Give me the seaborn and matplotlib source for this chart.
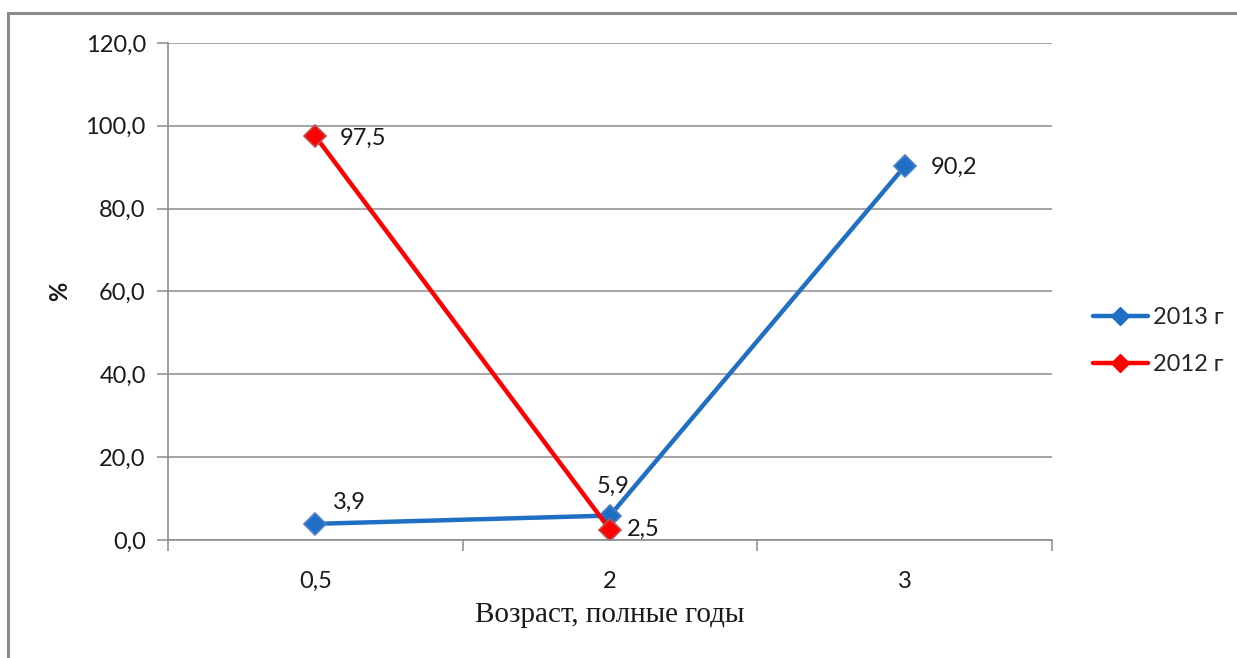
import numpy as np
import pandas as pd
import matplotlib
matplotlib.use("Agg")
import matplotlib.pyplot as plt
from matplotlib.patches import Rectangle
from matplotlib.lines import Line2D
from matplotlib.ticker import FixedLocator, FuncFormatter
import seaborn as sns

# Data
categories = ["0,5", "2", "3"]
series_names = ["2013 г", "2012 г"]
values_2013 = [3.9, 5.9, 90.2]
values_2012 = [97.5, 2.5, np.nan]
y_ticks = [0, 20, 40, 60, 80, 100, 120]

colors = {"2013 г": "#1F6FC4", "2012 г": "#FF0000"}

sns.set_theme(style="white")
plt.rcParams["font.family"] = ["Lato", "DejaVu Sans"]

pos = np.arange(len(categories))
df = pd.DataFrame({
    "pos": np.concatenate([pos, pos]),
    "value": values_2013 + values_2012,
    "series": [series_names[0]] * 3 + [series_names[1]] * 3,
})

W, H = 1237, 658
fig = plt.figure(figsize=(W / 100, H / 100), dpi=100)
ax = fig.add_axes([168 / W, 1 - 540 / H, (1052 - 168) / W, (540 - 43) / H])

sns.lineplot(
    data=df.dropna(), x="pos", y="value", hue="series", hue_order=series_names,
    palette=colors, style="series", markers={"2013 г": "D", "2012 г": "D"},
    dashes=False, markersize=11, linewidth=3.2, ax=ax, legend=False,
    markeredgewidth=1.2,
)
# marker outlines
for line, ec in zip(ax.lines, ["#4A7EC8", "#C0504D"]):
    line.set_markeredgecolor(ec)

ax.set_xlim(-0.5, 2.5)
ax.set_ylim(0, 120)

# axes styling
grid_c = "#8C8C8C"
text_c = "#1a1a1a"
for s in ["top", "right"]:
    ax.spines[s].set_visible(False)
for s in ["left", "bottom"]:
    ax.spines[s].set_color(grid_c)
    ax.spines[s].set_linewidth(1.2)
ax.yaxis.grid(True, color=grid_c, linewidth=1.1)
ax.set_axisbelow(True)

ax.yaxis.set_major_locator(FixedLocator(y_ticks))
ax.yaxis.set_major_formatter(FuncFormatter(lambda v, p: f"{v:.1f}".replace(".", ",")))
ax.tick_params(axis="y", length=8, width=1.1, color=grid_c, pad=8,
               labelsize=17, labelcolor=text_c, left=True)

ax.set_xticks(pos)
ax.set_xticklabels(categories)
ax.set_xticks([-0.5, 0.5, 1.5, 2.5], minor=True)
ax.tick_params(axis="x", which="major", length=0, pad=22, labelsize=17,
               labelcolor=text_c)
ax.tick_params(axis="x", which="minor", length=8, width=1.1, color=grid_c,
               bottom=True)

ax.set_xlabel("Возраст, полные годы", family=["Liberation Serif"], fontsize=21,
              color=text_c)
ax.xaxis.set_label_coords(0.5, -(602 - 540) / (540 - 43))
ax.set_ylabel("%", fontsize=17, fontweight="bold", color=text_c)
ax.yaxis.set_label_coords((71 - 168) / (1052 - 168), (540 - 291) / (540 - 43))


def fmt(v):
    return f"{v:.1f}".replace(".", ",")


# value labels
label_offsets = {
    ("2013 г", 0): (18, 22, "left"),
    ("2013 г", 1): (3, 29, "center"),
    ("2013 г", 2): (26, -1, "left"),
    ("2012 г", 0): (24, -2, "left"),
    ("2012 г", 1): (17, 0, "left"),
}
for name, vals in zip(series_names, [values_2013, values_2012]):
    for i, v in enumerate(vals):
        if np.isnan(v):
            continue
        dx, dy, ha = label_offsets[(name, i)]
        ax.annotate(fmt(v), (pos[i], v), xytext=(dx, dy), textcoords="offset pixels",
                    ha=ha, va="center", fontsize=17, color=text_c)

# legend
handles = [Line2D([], [], color=colors[n], marker="D", markersize=9, linewidth=3.2,
                  markeredgecolor=colors[n]) for n in series_names]
fig.legend(handles, series_names, loc="center left",
           bbox_to_anchor=(1072 / W, 1 - 341 / H), frameon=False,
           fontsize=17, handlelength=2.3, handletextpad=0.25, labelspacing=1.1)

# outer frame of the chart area
fig.add_artist(Rectangle((8 / W, -0.05), 1.2, 1 - 13 / H + 0.05, transform=fig.transFigure,
                         fill=False, edgecolor="#8A8A8A", linewidth=2.2))

fig.savefig("out.png", dpi=100, facecolor="white")
